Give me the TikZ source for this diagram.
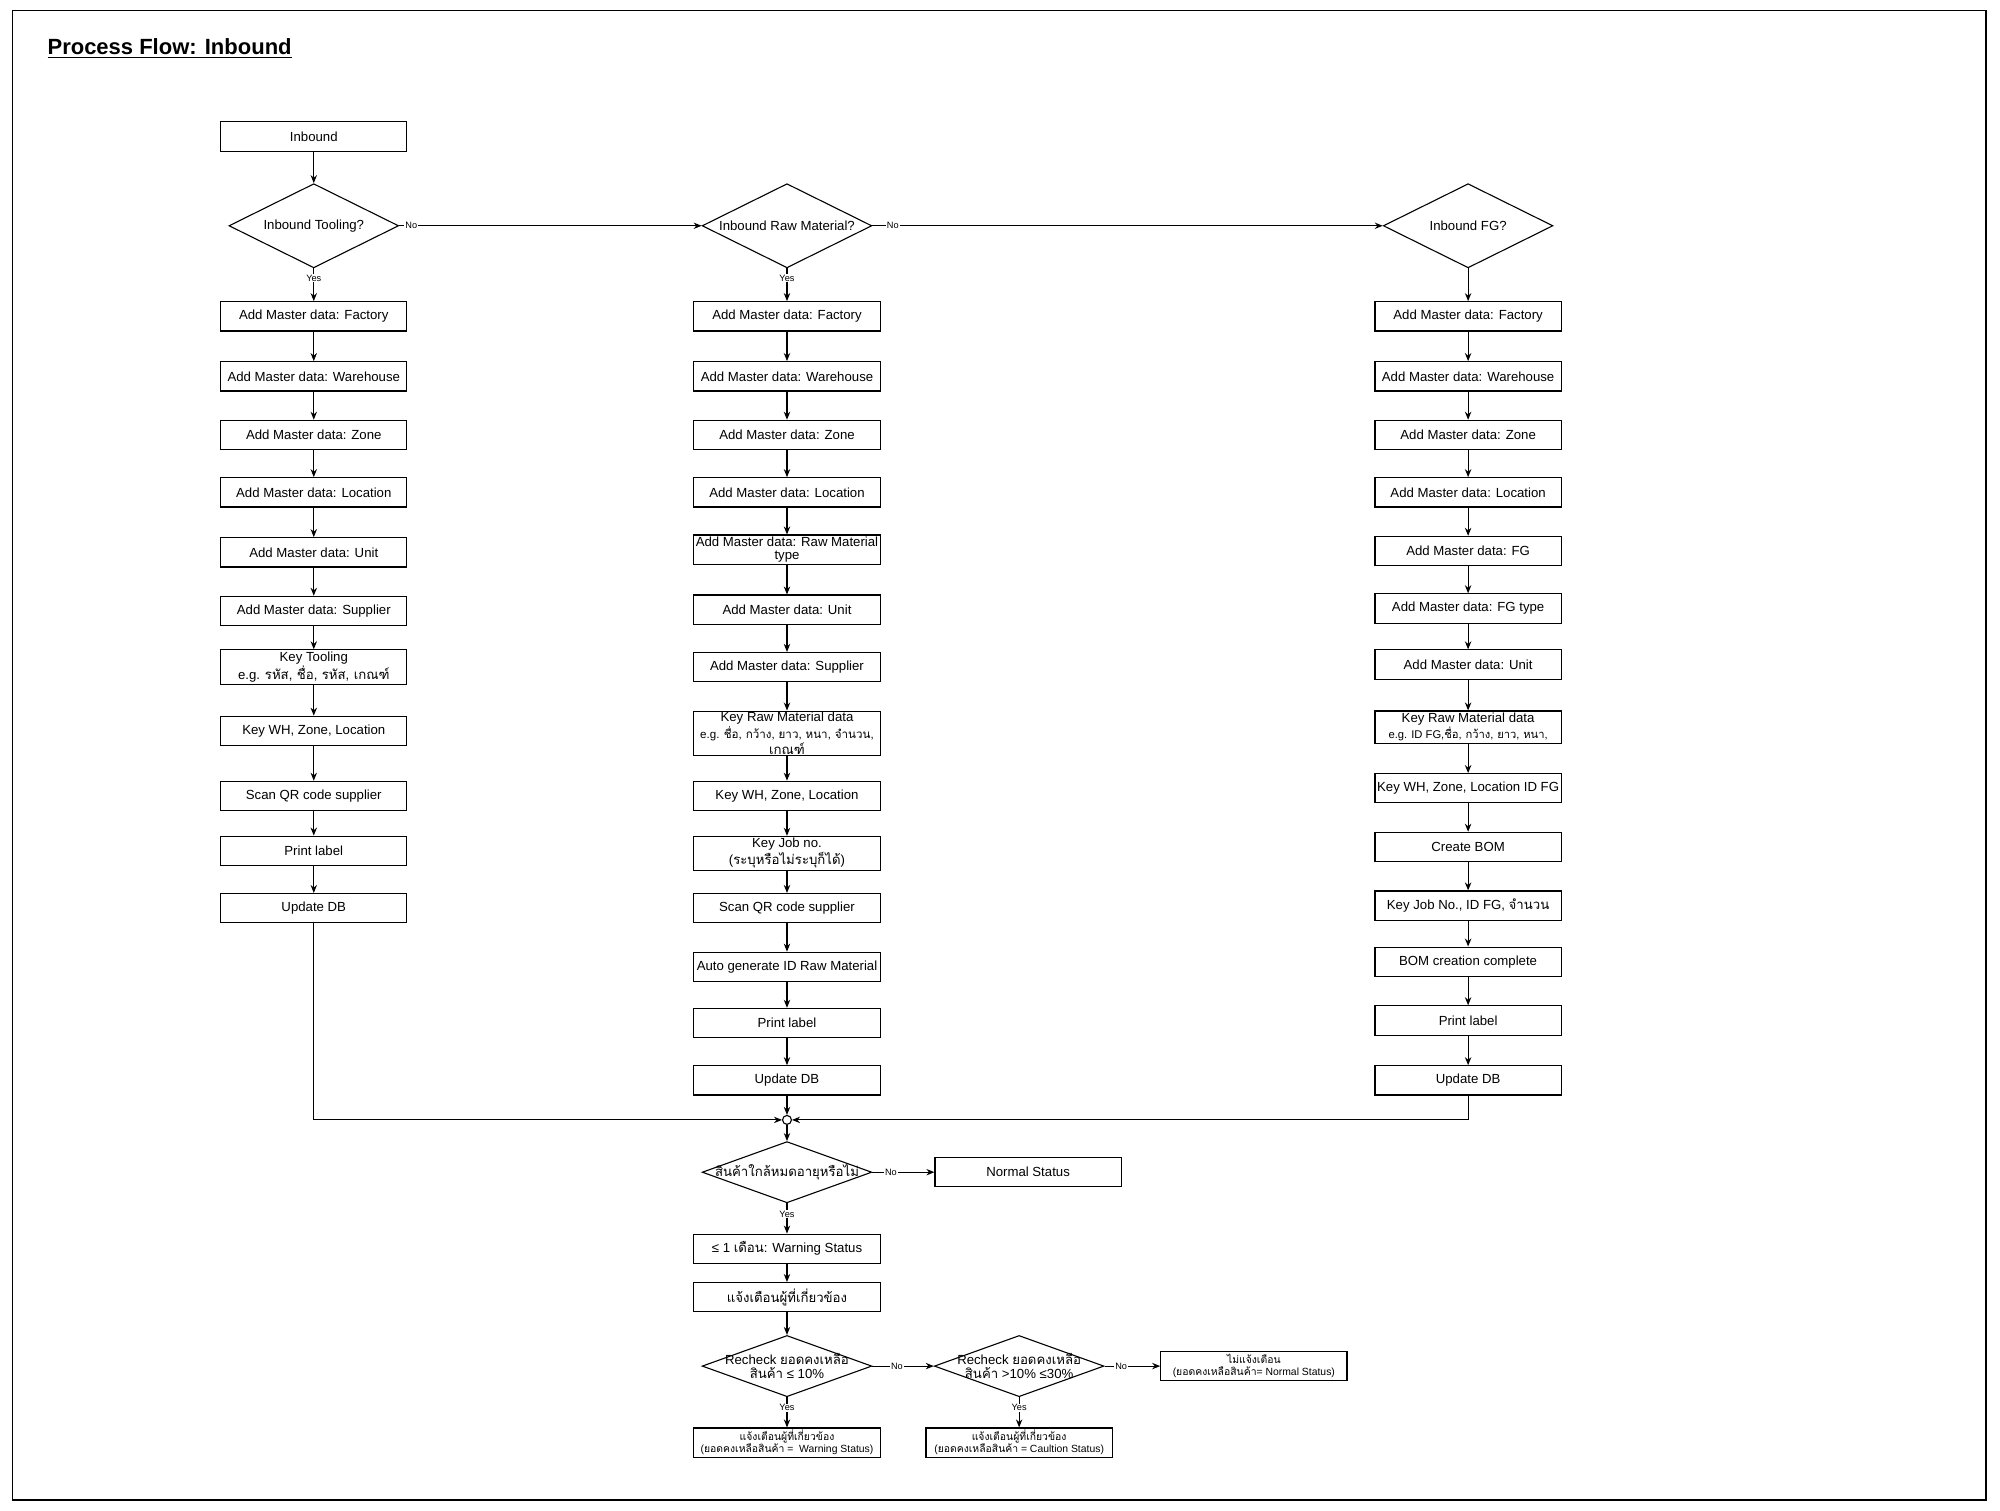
\documentclass[tikz,border=0pt]{standalone}
\usepackage{fontspec}
\setmainfont{Liberation Sans}
\newfontfamily\thai[Script=Thai]{Loma}
\usetikzlibrary{shapes.geometric,arrows.meta}
\begin{document}
\def\u{0.6378pt}
\begin{tikzpicture}[x=0.6378pt,y=-0.6378pt,
 bx/.style={draw,line width=0.55pt,minimum width=146*\u,minimum height=23*\u,inner sep=1pt,align=center,font=\fontsize{6.6}{6.6}\selectfont},
 dm/.style={draw,line width=0.55pt,diamond,aspect=2,minimum width=133*\u,minimum height=66*\u,inner sep=0pt},
 dt/.style={align=center,font=\fontsize{6.6}{7}\selectfont},
 ar/.style={-{Stealth[length=4pt,width=3.2pt]},line width=0.55pt},
 lb/.style={fill=white,inner sep=0.5pt,font=\fontsize{4.6}{5}\selectfont}]
\useasboundingbox (0,0) rectangle (1568,1184);
\draw[line width=0.55pt] (10,8) rectangle (1557,1176);
\node[anchor=west,inner sep=0pt,font=\bfseries\fontsize{11}{12}\selectfont] (title) at (37,38) {\underline{Process Flow: Inbound}};
% column 1
\node[bx] (a0) at (246,107) {Inbound};
\node[dm,label={[dt]center:Inbound Tooling?}] (ad) at (246,177) {};
\node[bx] (a1) at (246,248) {Add Master data: Factory};
\node[bx] (a2) at (246,295) {Add Master data: Warehouse};
\node[bx] (a3) at (246,341) {Add Master data: Zone};
\node[bx] (a4) at (246,386) {Add Master data: Location};
\node[bx] (a5) at (246,433) {Add Master data: Unit};
\node[bx] (a6) at (246,479) {Add Master data: Supplier};
\node[bx] (a7) at (246,523) {Key Tooling\\e.g. {\thai รหัส, ชื่อ, รหัส, เกณฑ์}};
\node[bx] (a8) at (246,573) {Key WH, Zone, Location};
\node[bx] (a9) at (246,624) {Scan QR code supplier};
\node[bx] (a10) at (246,667) {Print label};
\node[bx] (a11) at (246,712) {Update DB};
% column 2
\node[dm,label={[dt]center:Inbound Raw Material?}] (bd) at (617,177) {};
\node[bx] (b1) at (617,248) {Add Master data: Factory};
\node[bx] (b2) at (617,295) {Add Master data: Warehouse};
\node[bx] (b3) at (617,341) {Add Master data: Zone};
\node[bx] (b4) at (617,386) {Add Master data: Location};
\node[bx] (b5) at (617,431) {Add Master data: Raw Material\\type};
\node[bx] (b6) at (617,478) {Add Master data: Unit};
\node[bx] (b7) at (617,523) {Add Master data: Supplier};
\node[bx,minimum height=35*\u,inner sep=0.5pt] (b8) at (617,575) {Key Raw Material data\\{\fontsize{5.8}{6.4}\selectfont e.g. {\thai ชื่อ, กว้าง, ยาว, หนา, จำนวน,}}\\{\thai เกณฑ์}};
\node[bx] (b9) at (617,624) {Key WH, Zone, Location};
\node[bx] (b10) at (617,669) {Key Job no.\\({\thai ระบุหรือไม่ระบุก็ได้})};
\node[bx] (b11) at (617,712) {Scan QR code supplier};
\node[bx] (b12) at (617,758) {Auto generate ID Raw Material};
\node[bx] (b13) at (617,802) {Print label};
\node[bx] (b14) at (617,847) {Update DB};
% column 3
\node[dm,label={[dt]center:Inbound FG?}] (cd) at (1151,177) {};
\node[bx] (c1) at (1151,248) {Add Master data: Factory};
\node[bx] (c2) at (1151,295) {Add Master data: Warehouse};
\node[bx] (c3) at (1151,341) {Add Master data: Zone};
\node[bx] (c4) at (1151,386) {Add Master data: Location};
\node[bx] (c5) at (1151,432) {Add Master data: FG};
\node[bx] (c6) at (1151,477) {Add Master data: FG type};
\node[bx] (c7) at (1151,521) {Add Master data: Unit};
\node[bx] (c8) at (1151,570) {Key Raw Material data\\{\fontsize{5.6}{6}\selectfont e.g. ID FG,{\thai ชื่อ, กว้าง, ยาว, หนา,}}};
\node[bx] (c9) at (1151,618) {Key WH, Zone, Location ID FG};
\node[bx] (c10) at (1151,664) {Create BOM};
\node[bx] (c11) at (1151,710) {Key Job No., ID FG, {\thai จำนวน}};
\node[bx] (c12) at (1151,754) {BOM creation complete};
\node[bx] (c13) at (1151,800) {Print label};
\node[bx] (c14) at (1151,847) {Update DB};
% bottom
\node[draw,line width=0.55pt,circle,inner sep=0pt,minimum size=7*\u] (m) at (617,878) {};
\node[dm,minimum height=48*\u,aspect=2.77,label={[dt]center:{\thai สินค้าใกล้หมดอายุหรือไม่}}] (d4) at (617,919) {};
\node[bx] (ns) at (806,919) {Normal Status};
\node[bx] (w1) at (617,979) {≤ 1 {\thai เดือน}: Warning Status};
\node[bx] (w2) at (617,1017) {\thai แจ้งเตือนผู้ที่เกี่ยวข้อง};
\node[dm,minimum height=48*\u,aspect=2.77,label={[dt]center:Recheck {\thai ยอดคงเหลือ}\\{\thai สินค้า} ≤ 10\%}] (d5) at (617,1071) {};
\node[dm,minimum height=48*\u,aspect=2.77,label={[dt]center:Recheck {\thai ยอดคงเหลือ}\\{\thai สินค้า} >10\% ≤30\%}] (d6) at (799,1071) {};
\node[bx,font=\fontsize{5.2}{6}\selectfont] (n1) at (983,1071) {\thai ไม่แจ้งเตือน\\({\thai ยอดคงเหลือสินค้า}= Normal Status)};
\node[bx,font=\fontsize{5.2}{6}\selectfont] (y1) at (617,1131) {\thai แจ้งเตือนผู้ที่เกี่ยวข้อง\\({\thai ยอดคงเหลือสินค้า} =\ \ Warning Status)};
\node[bx,font=\fontsize{5.2}{6}\selectfont] (y2) at (799,1131) {\thai แจ้งเตือนผู้ที่เกี่ยวข้อง\\({\thai ยอดคงเหลือสินค้า} = Caultion Status)};
% edges
\draw[ar] (a0) -- (ad);
\draw[ar] (ad) -- node[lb,pos=0.3]{Yes} (a1);
\foreach \p/\q in {a1/a2,a2/a3,a3/a4,a4/a5,a5/a6,a6/a7,a7/a8,a8/a9,a9/a10,a10/a11,
 b1/b2,b2/b3,b3/b4,b4/b5,b5/b6,b6/b7,b7/b8,b8/b9,b9/b10,b10/b11,b11/b12,b12/b13,b13/b14,
 c1/c2,c2/c3,c3/c4,c4/c5,c5/c6,c6/c7,c7/c8,c8/c9,c9/c10,c10/c11,c11/c12,c12/c13,c13/c14}
 \draw[ar] (\p) -- (\q);
\draw[ar] (ad.east) -- node[lb,pos=0.04]{No} (bd.west);
\draw[ar] (bd.east) -- node[lb,pos=0.04]{No} (cd.west);
\draw[ar] (bd) -- node[lb,pos=0.3]{Yes} (b1);
\draw[ar] (cd) -- (c1);
\draw[ar] (a11.south) |- (m.west);
\draw[ar] (c14.south) |- (m.east);
\draw[ar] (b14) -- (m);
\draw[ar] (m) -- (d4);
\draw[ar] (d4.east) -- node[lb,pos=0.3]{No} (ns.west);
\draw[ar] (d4) -- node[lb,pos=0.35]{Yes} (w1);
\draw[ar] (w1) -- (w2);
\draw[ar] (w2) -- (d5);
\draw[ar] (d5.east) -- node[lb,pos=0.4]{No} (d6.west);
\draw[ar] (d6.east) -- node[lb,pos=0.3]{No} (n1.west);
\draw[ar] (d5) -- node[lb,pos=0.35]{Yes} (y1);
\draw[ar] (d6) -- node[lb,pos=0.35]{Yes} (y2);
\end{tikzpicture}
\end{document}
